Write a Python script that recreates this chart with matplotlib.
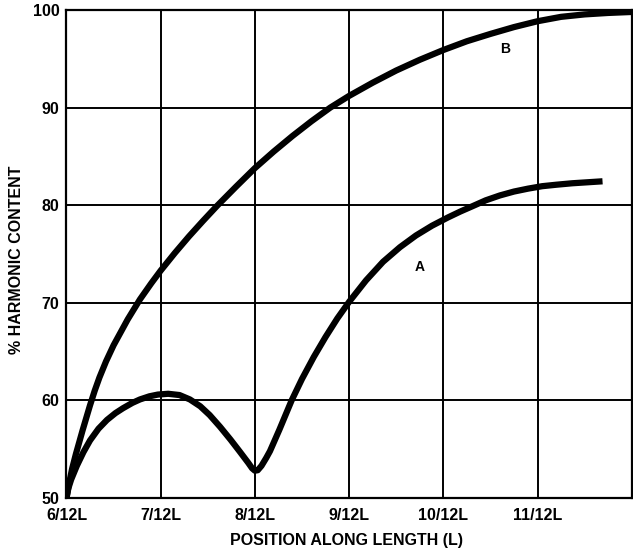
import matplotlib
matplotlib.use('Agg')
import matplotlib.pyplot as plt

# ─── data (position in twelfths of L, % harmonic content) ─────────────
x_ticks = [6, 7, 8, 9, 10, 11]
x_tick_labels = ["6/12L", "7/12L", "8/12L", "9/12L", "10/12L", "11/12L"]
y_ticks = [50, 60, 70, 80, 90, 100]

b_x = [6.0, 6.03, 6.06, 6.1, 6.17, 6.25, 6.3, 6.35, 6.42, 6.5, 6.65, 6.78,
       6.9, 7.0, 7.15, 7.3, 7.45, 7.6, 7.8, 8.0, 8.2, 8.4, 8.6, 8.8, 9.0,
       9.25, 9.5, 9.75, 10.0, 10.25, 10.5, 10.75, 11.0, 11.25, 11.5, 11.75,
       12.0]
b_y = [50.0, 51.6, 53.0, 54.5, 56.9, 59.5, 61.0, 62.35, 64.0, 65.65, 68.3,
       70.35, 72.0, 73.3, 75.1, 76.8, 78.4, 79.95, 81.9, 83.8, 85.5, 87.1,
       88.6, 90.0, 91.2, 92.55, 93.8, 94.9, 95.9, 96.8, 97.55, 98.25, 98.85,
       99.3, 99.55, 99.7, 99.8]

a_x = [6.0, 6.02, 6.05, 6.11, 6.18, 6.25, 6.34, 6.43, 6.52, 6.6, 6.7, 6.78,
       6.88, 6.97, 7.08, 7.2, 7.31, 7.42, 7.52, 7.63, 7.74, 7.84, 7.93, 7.97,
       8.0, 8.03, 8.07, 8.12, 8.16, 8.26, 8.39, 8.5, 8.625, 8.75, 8.875, 9.0,
       9.18, 9.36, 9.54, 9.71, 9.88, 10.05, 10.18, 10.31, 10.45, 10.6, 10.75,
       10.9, 11.05, 11.2, 11.37, 11.53, 11.69]
a_y = [50.0, 51.0, 51.9, 53.3, 54.7, 55.9, 57.1, 58.0, 58.7, 59.2, 59.75, 60.1,
       60.42, 60.6, 60.68, 60.55, 60.1, 59.4, 58.5, 57.3, 56.0, 54.75, 53.6,
       53.05, 52.8, 52.85, 53.3, 54.1, 54.8, 57.0, 60.0, 62.2, 64.45, 66.5,
       68.4, 70.1, 72.3, 74.2, 75.7, 76.9, 77.9, 78.75, 79.35, 79.9, 80.5,
       81.0, 81.4, 81.7, 81.95, 82.1, 82.25, 82.35, 82.45]

label_a = (9.75, 73.7)
label_b = (10.66, 96.0)

plt.rcParams['font.family'] = ['Liberation Sans', 'DejaVu Sans']
plt.rcParams['font.weight'] = 'bold'

fig = plt.figure(figsize=(6.33, 5.5), dpi=100)
ax = fig.add_axes([0.105, 0.0945, 0.893, 0.8873])

ax.plot(b_x, b_y, color='black', linewidth=4.5, solid_capstyle='butt',
        solid_joinstyle='round')
ax.plot(a_x, a_y, color='black', linewidth=4.5, solid_capstyle='butt',
        solid_joinstyle='round')

ax.text(label_a[0], label_a[1], "A", fontsize=10, fontweight='bold',
        ha='center', va='center')
ax.text(label_b[0], label_b[1], "B", fontsize=10, fontweight='bold',
        ha='center', va='center')

ax.set_xlim(6, 12)
ax.set_ylim(50, 100)
ax.set_xticks(x_ticks)
ax.set_xticklabels(x_tick_labels)
ax.set_yticks(y_ticks)
ax.tick_params(axis='both', length=0, labelsize=11.5)
ax.tick_params(axis='x', pad=7)
ax.tick_params(axis='y', pad=5)
for lab in ax.get_xticklabels() + ax.get_yticklabels():
    lab.set_fontweight('bold')

ax.grid(True, color='black', linewidth=1.4)
ax.set_axisbelow(True)
for sp in ax.spines.values():
    sp.set_linewidth(1.6)
    sp.set_color('black')

fig.text(0.548, 0.018, "POSITION ALONG LENGTH (L)", fontsize=11.5,
         fontweight='bold', ha='center', va='center')
fig.text(0.026, 0.527, "% HARMONIC CONTENT", fontsize=11.5,
         fontweight='bold', ha='center', va='center', rotation=90)

fig.savefig("out.png", dpi=100)
